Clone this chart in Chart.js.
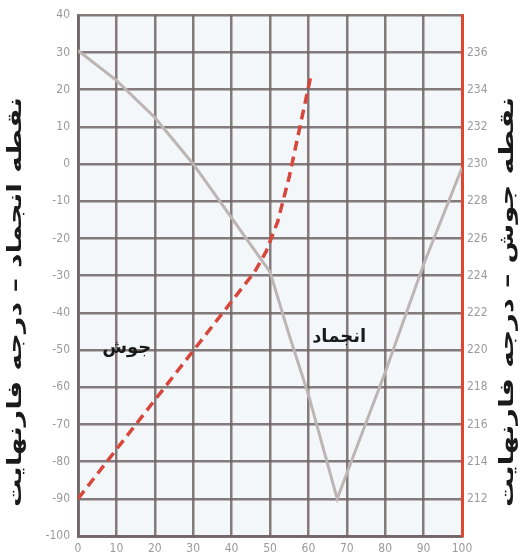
<!DOCTYPE html>
<html lang="fa">
<head>
    <meta charset="UTF-8">
    <title>نقطه انجماد و جوش</title>
    <script src="https://cdn.jsdelivr.net/npm/chart.js"></script>
    <style>
        body {
            margin: 0;
            background: #ffffff;
        }
        canvas {
            display: block;
        }
    </style>
</head>
<body>
    <canvas id="chart" width="523" height="558"></canvas>

    <script>
        // percent (x) and readings
        const freezeX = [0, 10, 20, 30, 40, 50, 55, 60, 67.5, 80, 90, 100];
        const freezeF = [30.5, 22.5, 12.5, 0, -14.5, -29, -46, -62, -90, -56, -27, -1];

        const boilX = [0, 46, 49, 52, 55, 60.5];
        const boilF = [212, 224.2, 225.3, 226.9, 229.3, 234.6];

        const leftTitle = 'نقطه انجماد – درجه فارنهایت';
        const rightTitle = 'نقطه جوش – درجه فارنهایت';
        const boilLabel = 'جوش';
        const freezeLabel = 'انجماد';
        const boilLabelAt = [12.7, -49.5];
        const freezeLabelAt = [68, -46.5];

        const gridColor = 'rgba(112,100,100,0.85)';
        const tickFont = { family: 'DejaVu Sans Condensed, DejaVu Sans', size: 12 };
        const titleFont = 'bold 17px "DejaVu Sans"';
        const labelFont = 'bold 18px "DejaVu Sans"';

        const extras = {
            id: 'extras',
            beforeDraw(chart) {
                const { ctx, chartArea: a } = chart;
                ctx.save();
                ctx.fillStyle = '#f3f7fa';
                ctx.fillRect(a.left, a.top, a.right - a.left, a.bottom - a.top);
                ctx.restore();
            },
            afterDraw(chart) {
                const { ctx, scales } = chart;
                ctx.save();
                ctx.fillStyle = '#1a1a1a';
                ctx.textAlign = 'center';
                ctx.textBaseline = 'middle';
                ctx.direction = 'rtl';
                // both axis titles read bottom to top, stretched to the reference length
                ctx.font = titleFont;
                [[16, leftTitle], [508, rightTitle]].forEach(([x, t]) => {
                    const w = ctx.measureText(t).width;
                    ctx.save();
                    ctx.translate(x, 302);
                    ctx.rotate(-Math.PI / 2);
                    ctx.scale(410 / w, 1.15);
                    ctx.fillText(t, 0, 0);
                    ctx.restore();
                });
                ctx.font = labelFont;
                ctx.fillText(boilLabel, scales.x.getPixelForValue(boilLabelAt[0]), scales.y.getPixelForValue(boilLabelAt[1]));
                ctx.fillText(freezeLabel, scales.x.getPixelForValue(freezeLabelAt[0]), scales.y.getPixelForValue(freezeLabelAt[1]));
                ctx.restore();
            }
        };

        new Chart(document.getElementById('chart'), {
            type: 'line',
            data: {
                datasets: [
                    {
                        label: 'انجماد',
                        data: freezeX.map((x, i) => ({ x: x, y: freezeF[i] })),
                        yAxisID: 'y',
                        borderColor: '#bdb4b4',
                        borderWidth: 3,
                        pointRadius: 0,
                        tension: 0
                    },
                    {
                        label: 'جوش',
                        data: boilX.map((x, i) => ({ x: x, y: boilF[i] })),
                        yAxisID: 'y2',
                        borderColor: '#d8473b',
                        borderWidth: 3.5,
                        borderDash: [10, 6],
                        pointRadius: 0,
                        tension: 0
                    }
                ]
            },
            options: {
                responsive: false,
                animation: false,
                layout: { padding: { top: 11, left: 0, right: 0, bottom: 0 } },
                plugins: {
                    legend: { display: false },
                    tooltip: { enabled: false }
                },
                scales: {
                    x: {
                        type: 'linear',
                        min: 0,
                        max: 100,
                        ticks: { stepSize: 10, color: '#9a9a9a', font: tickFont, padding: 6, maxRotation: 0 },
                        grid: { color: gridColor, lineWidth: 2.5, drawTicks: false },
                        border: { color: gridColor, width: 3 },
                        afterFit(s) { s.height = 22; }
                    },
                    y: {
                        position: 'left',
                        min: -100,
                        max: 40,
                        ticks: { stepSize: 10, color: '#9a9a9a', font: tickFont, padding: 8 },
                        grid: { color: gridColor, lineWidth: 2.5, drawTicks: false },
                        border: { color: gridColor, width: 3 },
                        afterFit(s) { s.width = 78; }
                    },
                    y2: {
                        position: 'right',
                        min: 210,
                        max: 238,
                        ticks: {
                            stepSize: 2,
                            color: '#9a9a9a',
                            font: tickFont,
                            padding: 5,
                            callback: v => (v === 210 || v === 238) ? '' : v
                        },
                        grid: { display: false, drawTicks: false },
                        border: { color: '#e0472f', width: 3 },
                        afterFit(s) { s.width = 61; }
                    }
                }
            },
            plugins: [extras]
        });
    </script>
</body>
</html>
